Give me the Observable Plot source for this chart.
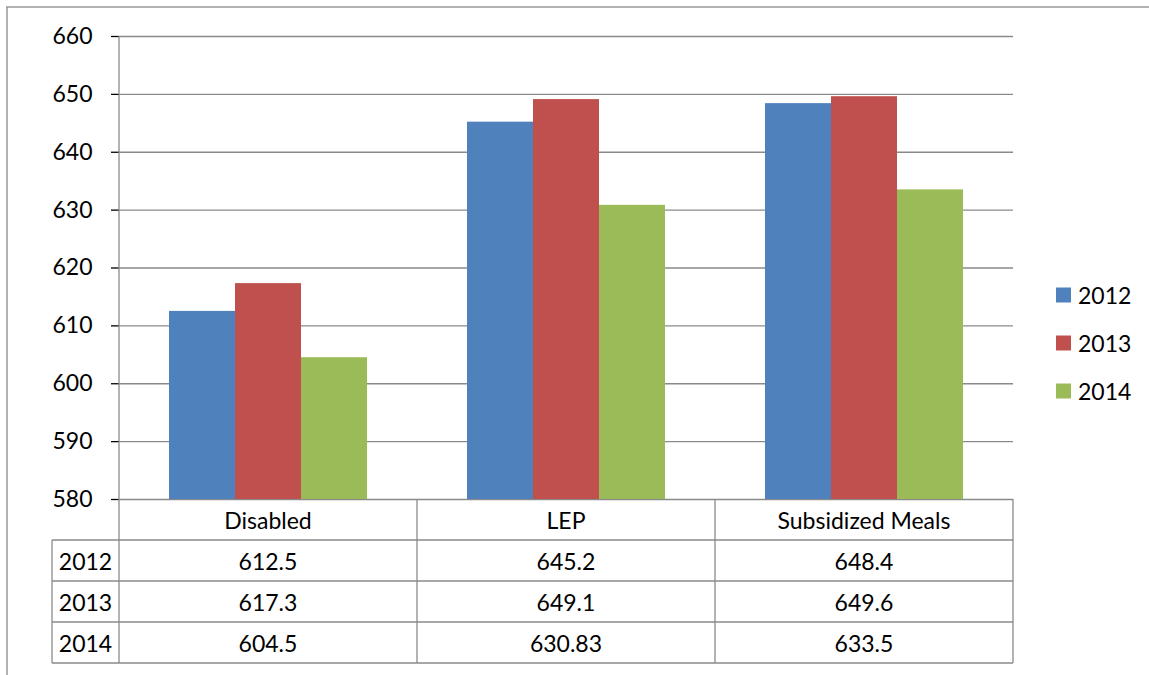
<!DOCTYPE html>
<html><head><meta charset="utf-8">
<script src="https://cdn.jsdelivr.net/npm/d3@7"></script>
<script src="https://cdn.jsdelivr.net/npm/@observablehq/plot@0.6"></script>
<style>
body{margin:0;background:#fff;}
#chart svg{font-family:Lato,"Open Sans",sans-serif;}
g[aria-label="y-axis tick"]{stroke:#888 !important;stroke-width:1.3px;}
</style></head><body><div id="chart"></div>
<script>
const categories = ["Disabled", "LEP", "Subsidized Meals"];
const years = ["2012", "2013", "2014"];
const values2012 = [612.5, 645.2, 648.4];
const values2013 = [617.3, 649.1, 649.6];
const values2014 = [604.5, 630.83, 633.5];
const labels2012 = ["612.5", "645.2", "648.4"];
const labels2013 = ["617.3", "649.1", "649.6"];
const labels2014 = ["604.5", "630.83", "633.5"];
const yTicks = [580, 590, 600, 610, 620, 630, 640, 650, 660];
const colors = ["#4F81BD", "#C0504D", "#9BBB59"];

const series = [values2012, values2013, values2014];
const seriesLabels = [labels2012, labels2013, labels2014];
const data = years.flatMap((yr, i) => categories.map((c, j) => ({category: c, year: yr, value: series[i][j]})));

const FS = 23;
const gridColor = "#8a8a8a";
const chart = Plot.plot({
  width: 1149, height: 675,
  marginLeft: 118, marginRight: 135, marginTop: 36, marginBottom: 176,
  style: {fontFamily: "Lato, 'Open Sans', sans-serif", fontSize: FS + "px", background: "white", color: "black", overflow: "visible"},
  fx: {domain: categories, padding: 0, axis: null},
  x: {domain: years, paddingInner: 0, paddingOuter: 0.75, axis: null},
  y: {domain: [580, 660], axis: "left", ticks: yTicks, tickSize: 8, tickPadding: 19, label: null, tickFormat: d => String(d)},
  color: {domain: years, range: colors},
  marks: [
    Plot.gridY(yTicks, {stroke: gridColor, strokeOpacity: 1, strokeWidth: 1.3}),
    Plot.barY(data, {fx: "category", x: "year", y1: 580, y2: "value", fill: "year"})
  ]
});
document.getElementById("chart").appendChild(chart);

const svg = d3.select(chart);
const fxS = chart.scale("fx");
const yS = chart.scale("y");
const colorS = chart.scale("color");
const bw = fxS.bandwidth;
const colLeft = categories.map(c => fxS.apply(c));
const xLeft = colLeft[0];
const xRight = colLeft[colLeft.length - 1] + bw;
const y0 = yS.apply(580);
const yTop = yS.apply(660);
const rowH = 41;
const rows = [y0, y0 + rowH, y0 + 2 * rowH, y0 + 3 * rowH, y0 + 4 * rowH];
const labelColLeft = 52;

const g = svg.append("g").attr("stroke", gridColor).attr("stroke-width", 1.3);
g.append("line").attr("x1", xLeft).attr("x2", xLeft).attr("y1", yTop).attr("y2", rows[4]);
for (let k = 1; k <= 4; k++) {
  g.append("line").attr("x1", labelColLeft).attr("x2", xRight).attr("y1", rows[k]).attr("y2", rows[k]);
}
colLeft.slice(1).concat([xRight]).forEach(x => {
  g.append("line").attr("x1", x).attr("x2", x).attr("y1", y0).attr("y2", rows[4]);
});
g.append("line").attr("x1", labelColLeft).attr("x2", labelColLeft).attr("y1", rows[1]).attr("y2", rows[4]);

const t = svg.append("g").attr("font-size", FS).attr("fill", "black").attr("text-anchor", "middle").attr("dominant-baseline", "central");
categories.forEach((c, j) => {
  const cx = colLeft[j] + bw / 2;
  t.append("text").attr("x", cx).attr("y", (rows[0] + rows[1]) / 2).text(c);
  years.forEach((yr, i) => {
    t.append("text").attr("x", cx).attr("y", (rows[i + 1] + rows[i + 2]) / 2).text(seriesLabels[i][j]);
  });
});
years.forEach((yr, i) => {
  t.append("text").attr("x", (labelColLeft + xLeft) / 2).attr("y", (rows[i + 1] + rows[i + 2]) / 2).text(yr);
});

const lg = svg.append("g").attr("font-size", FS).attr("text-anchor", "start");
years.forEach((yr, i) => {
  const cy = 295 + i * 48;
  lg.append("rect").attr("x", 1056).attr("y", cy - 7.5).attr("width", 15).attr("height", 15).attr("fill", colorS.apply(yr));
  lg.append("text").attr("x", 1078).attr("y", cy).attr("dominant-baseline", "central").attr("fill", "black").text(yr);
});

const fr = svg.append("g").attr("stroke", "#999").attr("stroke-width", 1.5);
fr.append("line").attr("x1", 6).attr("x2", 1149).attr("y1", 7).attr("y2", 7);
fr.append("line").attr("x1", 7).attr("x2", 7).attr("y1", 7).attr("y2", 675);
</script></body></html>
